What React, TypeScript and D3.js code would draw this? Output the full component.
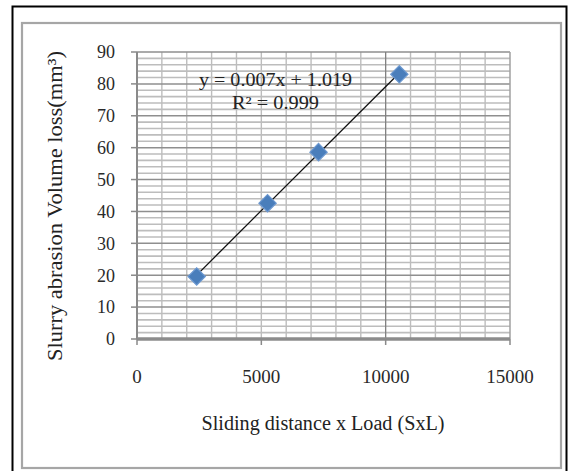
import React from "react";
import * as d3 from "d3";

const xValues = [2400, 5250, 7300, 10550];
const yValues = [19.6, 42.6, 58.6, 83];
const xTicks = [0, 5000, 10000, 15000];
const yTicks = [0, 10, 20, 30, 40, 50, 60, 70, 80, 90];
const equationText = "y = 0.007x + 1.019";
const r2Text = "R² = 0.999";
const xTitle = "Sliding distance x Load (SxL)";
const yTitle = "Slurry abrasion Volume loss(mm³)";

const W = 569;
const H = 471;
const plot = { left: 137, right: 510, top: 52, bottom: 339 };
const FONT = "'Liberation Serif', 'Times New Roman', serif";

export default function App() {
  const x = d3.scaleLinear().domain([0, 15000]).range([plot.left, plot.right]);
  const y = d3.scaleLinear().domain([0, 90]).range([plot.bottom, plot.top]);

  // least squares fit
  const n = xValues.length;
  const mx = d3.mean(xValues)!;
  const my = d3.mean(yValues)!;
  let sxy = 0, sxx = 0;
  for (let i = 0; i < n; i++) {
    sxy += (xValues[i] - mx) * (yValues[i] - my);
    sxx += (xValues[i] - mx) ** 2;
  }
  const slope = sxy / sxx;
  const intercept = my - slope * mx;
  const x0 = d3.min(xValues)!;
  const x1 = d3.max(xValues)!;
  const trend = d3.line<number>().x((d) => x(d)).y((d) => y(slope * d + intercept))([x0, x1]);

  const minorY = d3.range(0, 90.001, 2).filter((v) => v % 10 !== 0);
  const majorY = yTicks.filter((v) => v !== 0);
  const minorX = d3.range(1000, 15000, 1000).filter((v) => v !== 10000);
  const diamond = d3.symbol().type(d3.symbolSquare).size(150)()!;

  return (
    <svg
      width={W}
      height={H}
      style={{ position: "absolute", left: 0, top: 0, background: "#fff" }}
      fontFamily={FONT}
    >
      <rect x={0} y={0} width={W} height={H} fill="#fff" />
      {/* outer black frame */}
      <rect x={12.5} y={6.5} width={554} height={470} fill="none" stroke="#000" strokeWidth={2} />
      {/* inner gray frame */}
      <rect x={22} y={23} width={539} height={445} fill="none" stroke="#a6a6a6" strokeWidth={2.2} />

      {/* minor horizontal grid */}
      {minorY.map((v) => (
        <line key={"my" + v} x1={plot.left} x2={plot.right} y1={y(v)} y2={y(v)} stroke="#bdbdbd" strokeWidth={1.6} />
      ))}
      {/* minor vertical grid */}
      {minorX.map((v) => (
        <line key={"mx" + v} x1={x(v)} x2={x(v)} y1={plot.top} y2={plot.bottom} stroke="#bdbdbd" strokeWidth={1.4} />
      ))}
      {/* major horizontal grid */}
      {majorY.map((v) => (
        <line key={"My" + v} x1={plot.left} x2={plot.right} y1={y(v)} y2={y(v)} stroke="#8f8f8f" strokeWidth={1.5} />
      ))}
      {/* major vertical at 10000 */}
      <line x1={x(10000)} x2={x(10000)} y1={plot.top} y2={plot.bottom} stroke="#808080" strokeWidth={1.3} />
      {/* right border */}
      <line x1={plot.right} x2={plot.right} y1={plot.top} y2={plot.bottom} stroke="#a0a0a0" strokeWidth={1.5} />

      {/* axes */}
      <line x1={plot.left} x2={plot.left} y1={plot.top} y2={plot.bottom} stroke="#8a8a8a" strokeWidth={2} />
      <line x1={plot.left} x2={plot.right} y1={plot.bottom} y2={plot.bottom} stroke="#8c8c8c" strokeWidth={3.5} />
      {yTicks.map((v) => (
        <line key={"yt" + v} x1={plot.left - 6} x2={plot.left} y1={y(v)} y2={y(v)} stroke="#8a8a8a" strokeWidth={1.5} />
      ))}
      {xTicks.map((v) => (
        <line key={"xt" + v} x1={x(v)} x2={x(v)} y1={plot.bottom} y2={plot.bottom + 6} stroke="#8a8a8a" strokeWidth={1.5} />
      ))}

      {/* tick labels */}
      {yTicks.map((v) => (
        <text key={"yl" + v} x={115} y={y(v)} dy="0.35em" textAnchor="end" fontSize={18} fill="#2a2a2a">
          {v}
        </text>
      ))}
      {xTicks.map((v) => (
        <text key={"xl" + v} x={x(v)} y={376} dy="0.35em" textAnchor="middle" fontSize={19} fill="#2a2a2a">
          {v}
        </text>
      ))}

      {/* trendline */}
      <path d={trend!} fill="none" stroke="#111" strokeWidth={1.3} />

      {/* markers */}
      {xValues.map((v, i) => (
        <path
          key={"pt" + i}
          d={diamond}
          transform={`translate(${x(v)},${y(yValues[i])}) rotate(45)`}
          fill="#4a7ebb"
          stroke="#6c98d0"
          strokeWidth={1.2}
        />
      ))}

      {/* equation */}
      <text x={275.5} y={80} dy="0.35em" textAnchor="middle" fontSize={18} fill="#222" textLength={153} lengthAdjust="spacingAndGlyphs">
        {equationText}
      </text>
      <text x={275.5} y={103} dy="0.35em" textAnchor="middle" fontSize={18} fill="#222" textLength={87} lengthAdjust="spacingAndGlyphs">
        {r2Text}
      </text>

      {/* axis titles */}
      <text x={323} y={423} dy="0.35em" textAnchor="middle" fontSize={20} fill="#222" textLength={243} lengthAdjust="spacingAndGlyphs">
        {xTitle}
      </text>
      <text
        transform={`translate(55,206) rotate(-90)`}
        dy="0.35em"
        textAnchor="middle"
        fontSize={21}
        fill="#222"
        textLength={310}
        lengthAdjust="spacingAndGlyphs"
      >
        {yTitle}
      </text>
    </svg>
  );
}
